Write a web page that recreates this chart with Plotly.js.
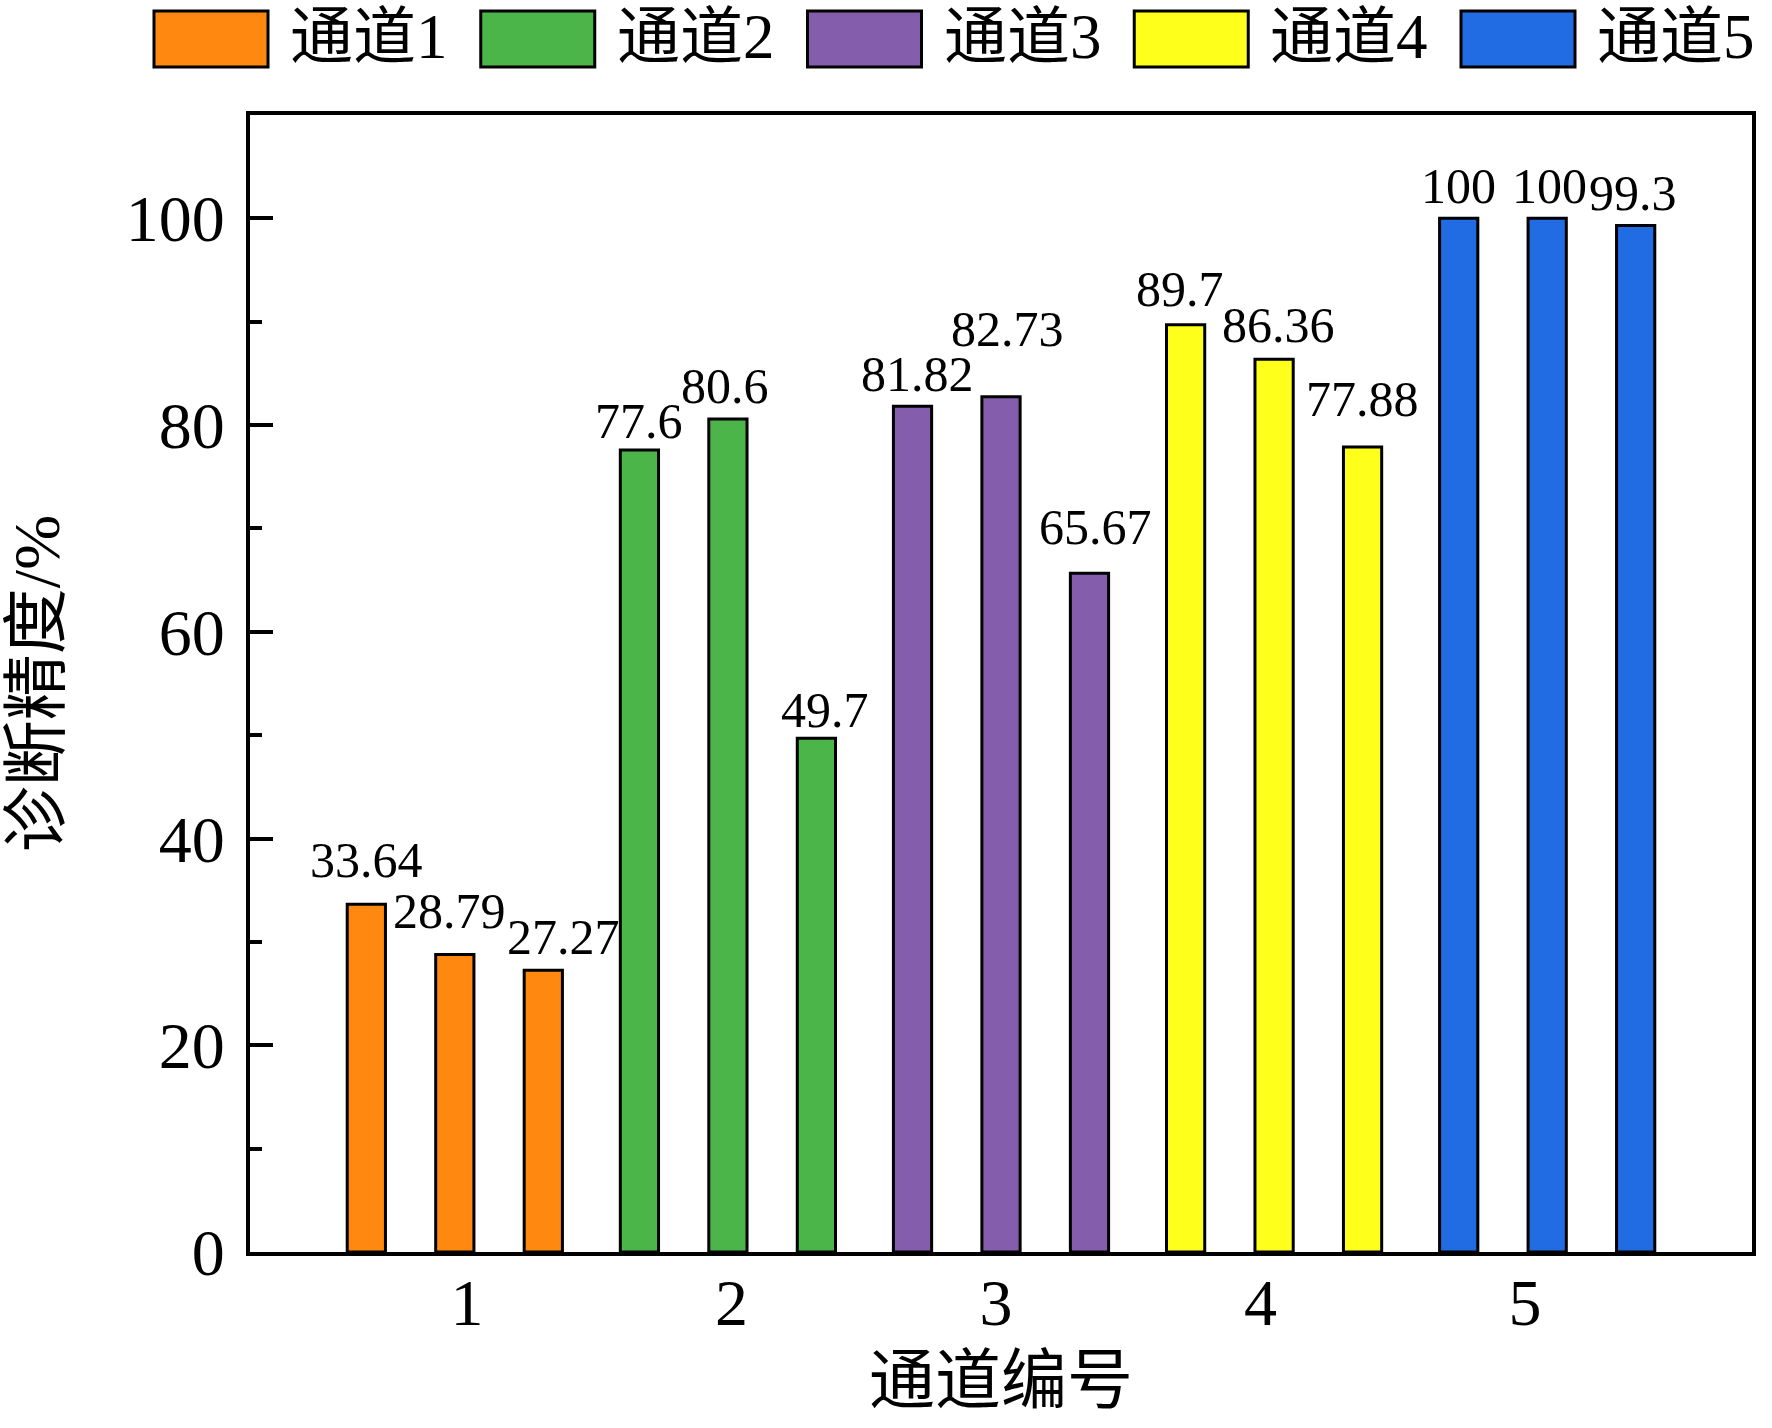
<!DOCTYPE html>
<html>
<head>
<meta charset="utf-8">
<script src="https://cdn.plot.ly/plotly-3.0.1.min.js"></script>
<style>body{margin:0;background:#fff}</style>
</head>
<body>
<div id="chart" style="width:1772px;height:1428px"></div>
<script>
// channels (x groups) and their legend names
var channels = [1, 2, 3, 4, 5];
var names = ['通道1', '通道2', '通道3', '通道4', '通道5'];
// diagnosis accuracy (%), three bars per channel
var acc1 = [33.64, 28.79, 27.27];
var acc2 = [77.6, 80.6, 49.7];
var acc3 = [81.82, 82.73, 65.67];
var acc4 = [89.7, 86.36, 77.88];
var acc5 = [100, 100, 99.3];

var values = [acc1, acc2, acc3, acc4, acc5];
var colors = ['#ff8811', '#4bb549', '#845eac', '#ffff1c', '#216be3'];

var FONT = "'Liberation Serif', 'Noto Sans CJK SC', serif";
var W = 1772, H = 1428;
var M = {l: 250, r: 20, t: 115, b: 176};

// bar slots inside a group
var slot = 0.324, barW = 0.14;
var offsets = [-slot - barW / 2, -barW / 2, slot - barW / 2];

// value labels were placed by hand in the original: gap above bar / sideways shift (px)
var labelGap = [[26, 25, 15], [11, 15, 10], [14, 50, 28], [18, 16, 30], [14, 14, 15]];
var labelDx  = [[0, -5, 20], [0, -3, 9], [5, 6, 6], [-6, 4, 0], [0, 2, -3]];

// pixel -> paper helpers (for the hand drawn legend)
function px(x) { return (x - M.l) / (W - M.l - M.r); }
function py(y) { return (H - M.b - y) / (H - M.t - M.b); }

var data = [];
var annotations = [];
var shapes = [];

for (var i = 0; i < channels.length; i++) {
  var ch = channels[i];
  data.push({
    type: 'bar',
    name: names[i],
    x: [ch, ch, ch],
    y: values[i],
    width: barW,
    offset: offsets,
    marker: {color: colors[i], line: {color: '#000', width: 3}},
    showlegend: false,
    hoverinfo: 'y'
  });

  for (var j = 0; j < values[i].length; j++) {
    annotations.push({
      x: ch + offsets[j] + barW / 2, y: values[i][j],
      xref: 'x', yref: 'y',
      text: String(values[i][j]),
      showarrow: false, yanchor: 'bottom',
      yshift: labelGap[i][j] - 12,
      xshift: labelDx[i][j],
      font: {family: FONT, size: 50, color: '#000'}
    });
  }

  // legend item
  var lx = 154 + 326.75 * i;
  shapes.push({
    type: 'rect', xref: 'paper', yref: 'paper',
    x0: px(lx), x1: px(lx + 114), y0: py(67), y1: py(11),
    fillcolor: colors[i], line: {color: '#000', width: 3}
  });
  annotations.push({
    x: px(lx + 134), y: py(37), xref: 'paper', yref: 'paper',
    xanchor: 'left', yanchor: 'middle', showarrow: false,
    text: names[i],
    font: {family: FONT, size: 63, color: '#000'}
  });
}

// empty trace so the tick-label axis gets drawn
data.push({
  type: 'scatter', mode: 'none', x: channels, y: channels.map(function () { return 0; }),
  xaxis: 'x2', yaxis: 'y', showlegend: false, hoverinfo: 'skip'
});

var layout = {
  width: W, height: H,
  margin: M,
  paper_bgcolor: '#fff', plot_bgcolor: '#fff',
  font: {family: FONT, color: '#000'},
  barmode: 'overlay',
  showlegend: false,
  xaxis: {
    range: [0.25, 5.75],
    showticklabels: false, ticks: '',
    showline: true, linecolor: '#000', linewidth: 4, mirror: true,
    showgrid: false, zeroline: false
  },
  // tick labels sit on their own scale in the original figure
  xaxis2: {
    overlaying: 'x', anchor: 'y', side: 'bottom',
    range: [0.18, 5.858],
    tickmode: 'array', tickvals: channels, ticktext: channels.map(String),
    ticks: '', showline: false, showgrid: false, zeroline: false,
    tickfont: {family: FONT, size: 66, color: '#000'},
    ticklabelstandoff: 6,
    title: {text: '通道编号', font: {family: FONT, size: 66, color: '#000'}, standoff: 18}
  },
  yaxis: {
    range: [0, 110],
    tickmode: 'linear', tick0: 0, dtick: 20,
    ticks: 'inside', ticklen: 23, tickwidth: 4, tickcolor: '#000',
    minor: {ticks: 'inside', ticklen: 12, tickwidth: 4, tickcolor: '#000',
            tickmode: 'linear', tick0: 0, dtick: 10},
    showline: true, linecolor: '#000', linewidth: 4, mirror: true,
    showgrid: false, zeroline: false,
    tickfont: {family: FONT, size: 66, color: '#000'},
    ticklabelstandoff: 8,
    title: {text: '诊断精度/%', font: {family: FONT, size: 66, color: '#000'}, standoff: 54}
  },
  annotations: annotations,
  shapes: shapes
};

Plotly.newPlot('chart', data, layout, {staticPlot: true});
</script>
</body>
</html>
